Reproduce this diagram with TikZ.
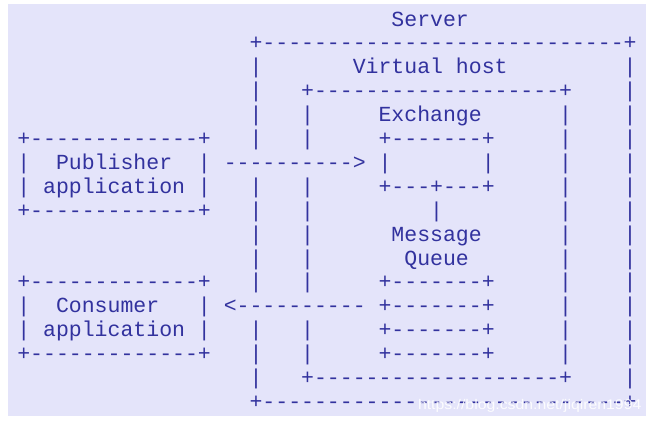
\documentclass[tikz,border=0pt]{standalone}
\usepackage{fontspec}
\usepackage{graphicx}
\setmonofont{Liberation Mono}
\newfontfamily\wmfont{Liberation Sans}
\definecolor{ink}{RGB}{50,50,158}
\definecolor{lav}{RGB}{228,228,250}
\tikzset{
  art/.style={anchor=base west, inner sep=0pt, outer sep=0pt, text=ink,
    font=\ttfamily\fontsize{21.5pt}{24pt}\selectfont},
  wmark/.style={anchor=base west, inner sep=0pt, outer sep=0pt, text=white,
    text opacity=0.9, font=\wmfont\fontsize{14pt}{15pt}\selectfont}
}
\newcommand\putart[4]{\node[art] (#1) at ({17.35pt+12.9pt*#2},{-26pt-23.9pt*#3}) {#4};}
\begin{document}
\begin{tikzpicture}
\useasboundingbox (0,0) rectangle (653pt,-423pt);
\fill[white] (0,0) rectangle (653pt,-423pt);
\fill[lav] (8pt,-4pt) rectangle (646pt,-416pt);
% row 0
\putart{server}{29}{0}{Server}
% row 1
\putart{srvtop}{18}{1}{+----------------------------+}
% row 2
\putart{s2l}{18}{2}{|}
\putart{vhost}{26}{2}{Virtual~host}
\putart{s2r}{47}{2}{|}
% row 3
\putart{s3l}{18}{3}{|}
\putart{vhtop}{22}{3}{+-------------------+}
\putart{s3r}{47}{3}{|}
% row 4
\putart{s4l}{18}{4}{|}
\putart{v4l}{22}{4}{|}
\putart{exch}{28}{4}{Exchange}
\putart{v4r}{42}{4}{|}
\putart{s4r}{47}{4}{|}
% row 5
\putart{pubtop}{0}{5}{+-------------+}
\putart{s5l}{18}{5}{|}
\putart{v5l}{22}{5}{|}
\putart{extop}{28}{5}{+-------+}
\putart{v5r}{42}{5}{|}
\putart{s5r}{47}{5}{|}
% row 6
\putart{pub}{0}{6}{|~~Publisher~~|}
\putart{pubarrow}{16}{6}{---------->}
\putart{exmid}{28}{6}{|~~~~~~~|}
\putart{v6r}{42}{6}{|}
\putart{s6r}{47}{6}{|}
% row 7
\putart{pubapp}{0}{7}{|~application~|}
\putart{s7l}{18}{7}{|}
\putart{v7l}{22}{7}{|}
\putart{exbot}{28}{7}{+---+---+}
\putart{v7r}{42}{7}{|}
\putart{s7r}{47}{7}{|}
% row 8
\putart{pubbot}{0}{8}{+-------------+}
\putart{s8l}{18}{8}{|}
\putart{v8l}{22}{8}{|}
\putart{bind}{32}{8}{|}
\putart{v8r}{42}{8}{|}
\putart{s8r}{47}{8}{|}
% row 9
\putart{s9l}{18}{9}{|}
\putart{v9l}{22}{9}{|}
\putart{msg}{29}{9}{Message}
\putart{v9r}{42}{9}{|}
\putart{s9r}{47}{9}{|}
% row 10
\putart{s10l}{18}{10}{|}
\putart{v10l}{22}{10}{|}
\putart{queue}{30}{10}{Queue}
\putart{v10r}{42}{10}{|}
\putart{s10r}{47}{10}{|}
% row 11
\putart{contop}{0}{11}{+-------------+}
\putart{s11l}{18}{11}{|}
\putart{v11l}{22}{11}{|}
\putart{q1}{28}{11}{+-------+}
\putart{v11r}{42}{11}{|}
\putart{s11r}{47}{11}{|}
% row 12
\putart{con}{0}{12}{|~~Consumer~~~|}
\putart{conarrow}{16}{12}{<----------}
\putart{q2}{28}{12}{+-------+}
\putart{v12r}{42}{12}{|}
\putart{s12r}{47}{12}{|}
% row 13
\putart{conapp}{0}{13}{|~application~|}
\putart{s13l}{18}{13}{|}
\putart{v13l}{22}{13}{|}
\putart{q3}{28}{13}{+-------+}
\putart{v13r}{42}{13}{|}
\putart{s13r}{47}{13}{|}
% row 14
\putart{conbot}{0}{14}{+-------------+}
\putart{s14l}{18}{14}{|}
\putart{v14l}{22}{14}{|}
\putart{q4}{28}{14}{+-------+}
\putart{v14r}{42}{14}{|}
\putart{s14r}{47}{14}{|}
% row 15
\putart{s15l}{18}{15}{|}
\putart{vhbot}{22}{15}{+-------------------+}
\putart{s15r}{47}{15}{|}
% row 16
\putart{srvbot}{18}{16}{+----------------------------+}
% watermark
\node[wmark] (wm) at (418pt,-409pt) {\scalebox{1.13}[1]{https://blog.csdn.net/jiqiren1994}};
\end{tikzpicture}
\end{document}
